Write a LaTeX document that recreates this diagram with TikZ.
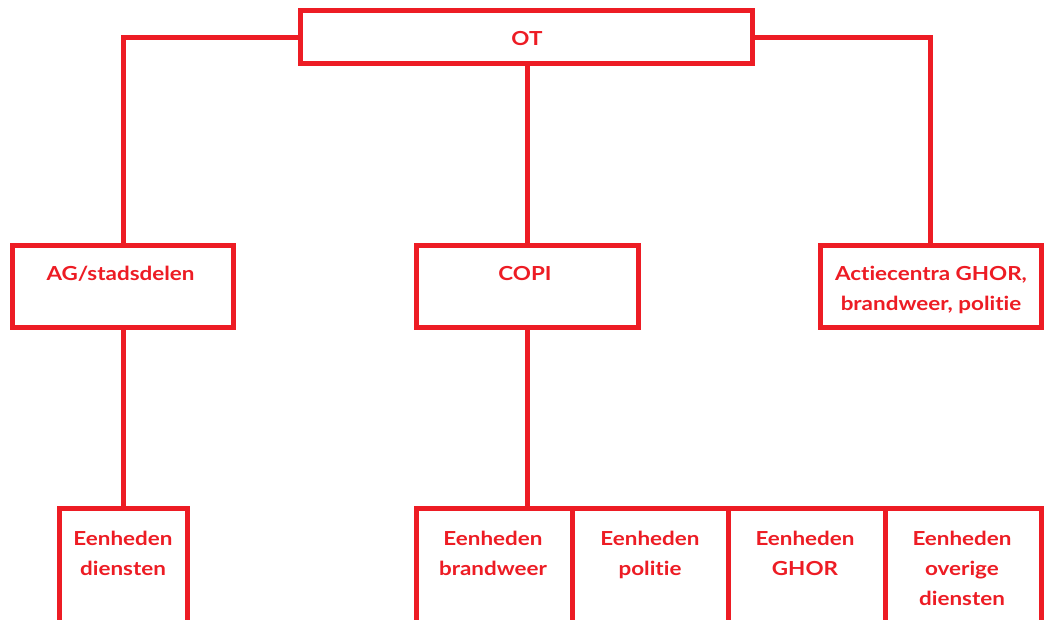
\documentclass[tikz,border=0pt]{standalone}
\usepackage{fontspec}
\setmainfont{Lato}[Ligatures=NoCommon,FakeStretch=1.16]
\definecolor{ared}{RGB}{237,28,36}
\begin{document}
\begin{tikzpicture}[x=0.75pt,y=-0.75pt,
  box/.style={draw=ared,line width=3.75pt,rectangle,inner sep=0pt,fill=white},
  txt/.style={text=ared,font=\fontsize{14.5pt}{22.5pt}\selectfont\bfseries,align=center,inner sep=0pt,anchor=base},
  conn/.style={draw=ared,line width=3.75pt}]
\clip (0,0) rectangle (1044,619);
\fill[white] (0,0) rectangle (1044,619);
% boxes
\node[box,minimum width={452*0.75pt},minimum height={53*0.75pt}] (ot) at (526,37) {};
\node[box,minimum width={221*0.75pt},minimum height={82*0.75pt}] (ag) at (123,286.5) {};
\node[box,minimum width={221.5*0.75pt},minimum height={82*0.75pt}] (copi) at (527.5,286.5) {};
\node[box,minimum width={220.5*0.75pt},minimum height={82*0.75pt}] (act) at (930.75,286.5) {};
\node[box,minimum width={128*0.75pt},minimum height={140*0.75pt}] (ed) at (123.5,578.5) {};
\node[box,minimum width={156*0.75pt},minimum height={140*0.75pt}] (eb) at (494,578.5) {};
\node[box,minimum width={156.5*0.75pt},minimum height={140*0.75pt}] (ep) at (650.25,578.5) {};
\node[box,minimum width={156.5*0.75pt},minimum height={140*0.75pt}] (eg) at (806.75,578.5) {};
\node[box,minimum width={156*0.75pt},minimum height={140*0.75pt}] (eo) at (963,578.5) {};
% connectors
\draw[conn] (ot.west) -| (ag.north);
\draw[conn] (ot.east) -| (act.north);
\draw[conn] (copi.north |- ot.south) -- (copi.north);
\draw[conn] (ag.south) -- (ag.south |- ed.north);
\draw[conn] (copi.south) -- (copi.south |- eb.north);
% texts
\node[txt] (tot) at (527,45) {OT};
\node[txt] (tag) at (120.5,280) {AG/stadsdelen};
\node[txt] (tcopi) at (525,280) {COPI};
\node[txt] (tact) at (931,310) {Actiecentra GHOR,\\brandweer, politie};
\node[txt] (ted) at (123,575) {Eenheden\\diensten};
\node[txt] (teb) at (493,575) {Eenheden\\brandweer};
\node[txt] (tep) at (650,575) {Eenheden\\politie};
\node[txt] (teg) at (805,575) {Eenheden\\GHOR};
\node[txt] (teo) at (962,605) {Eenheden\\overige\\diensten};
\end{tikzpicture}
\end{document}
